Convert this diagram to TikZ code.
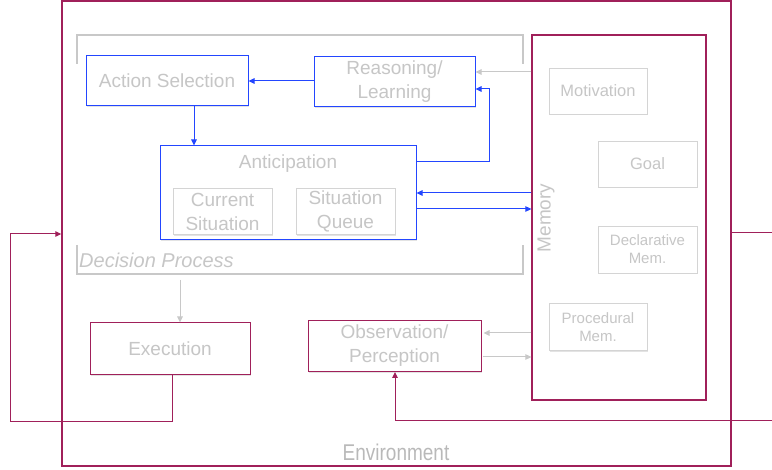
\documentclass[tikz,border=0pt]{standalone}
\usepackage{fontspec}
\setmainfont{Liberation Sans}
\usetikzlibrary{arrows.meta,shadows}
\definecolor{mag}{RGB}{160,32,90}
\definecolor{blu}{RGB}{35,70,255}
\definecolor{txt}{RGB}{198,198,198}
\definecolor{gbox}{RGB}{212,212,212}
\definecolor{gline}{RGB}{200,200,200}
\tikzset{
  box/.style={draw, rectangle, line width=1pt, align=center, text=txt, inner sep=0pt,
    font=\fontsize{19}{24}\selectfont, fill=white,
    drop shadow={opacity=0.22,shadow xshift=1pt,shadow yshift=-1.5pt}},
  bluebox/.style={box, draw=blu},
  magbox/.style={box, draw=mag},
  graybox/.style={box, draw=gbox, line width=0.9pt},
  arr/.style={line width=1pt,-{Triangle[length=6pt,width=5.5pt]}},
  plain/.style={line width=1pt},
  lbl/.style={text=txt, inner sep=0pt}
}
\begin{document}
\begin{tikzpicture}[x=1pt,y=-1pt]
\useasboundingbox (0,0) rectangle (772,470);
% environment
\node[draw=mag, line width=1.4pt, minimum width=669pt, minimum height=465pt, inner sep=0pt] (env) at (396.5,233.5) {};
\node[lbl, text={rgb,255:red,185;green,185;blue,185}, font=\fontsize{19}{23}\selectfont, yscale=1.2] (envt) at (396,452) {Environment};
% decision process brackets
\draw[gline, line width=1.4pt] (77,64) -- (77,35) -- (523,35) -- (523,64);
\draw[gline, line width=1.4pt] (77,245) -- (77,274) -- (523,274) -- (523,245);
\node[lbl, anchor=west, font=\fontsize{20}{24}\selectfont\itshape] (dpt) at (79,260) {Decision Process};
\coordinate (dp) at (180,280);
% memory
\node[magbox, line width=1.2pt, minimum width=174pt, minimum height=365pt] (mem) at (619,217.5) {};
\node[lbl, rotate=90, font=\fontsize{19}{23}\selectfont] (memt) at (546,218) {Memory};
\node[graybox, minimum width=98pt, minimum height=46pt, font=\fontsize{16.5}{19}\selectfont] (motiv) at (598,91) {Motivation};
\node[graybox, minimum width=99pt, minimum height=46pt, font=\fontsize{16.5}{19}\selectfont] (goal) at (647.5,164) {Goal};
\node[graybox, minimum width=99pt, minimum height=47pt, font=\fontsize{15}{18}\selectfont] (decl) at (647.5,249.5) {Declarative\\Mem.};
\node[graybox, minimum width=98pt, minimum height=47pt, font=\fontsize{15}{18}\selectfont] (proc) at (598,327) {Procedural\\Mem.};
% decision boxes
\node[bluebox, minimum width=162pt, minimum height=50pt] (action) at (167,81) {\raisebox{-1.5pt}{Action Selection}};
\node[bluebox, minimum width=161pt, minimum height=50pt] (reason) at (394.5,82) {Reasoning/\\Learning};
\node[bluebox, minimum width=256pt, minimum height=94pt] (antic) at (288,193) {};
\node[lbl, font=\fontsize{19}{23}\selectfont] (antict) at (288,164) {Anticipation};
\node[graybox, minimum width=99pt, minimum height=46pt] (cur) at (222.5,211.5) {Current\\Situation};
\node[graybox, minimum width=99pt, minimum height=46pt] (queue) at (345.5,211.5) {Situation\\Queue};
% lower boxes
\node[magbox, minimum width=160pt, minimum height=52pt] (exec) at (170,349) {\raisebox{-1.5pt}{Execution}};
\node[magbox, minimum width=173pt, minimum height=51pt] (obs) at (394.5,346) {Observation/\\Perception};
% blue connectors
\draw[arr, blu] (reason.west |- 0,81) -- (action.east |- 0,81);
\draw[arr, blu] (action.south -| 194,0) -- (antic.north -| 194,0);
\draw[arr, blu] (antic.east |- 0,162) -| (489,89) -- (reason.east |- 0,89);
\draw[arr, blu] (mem.west |- 0,193) -- (antic.east |- 0,193);
\draw[arr, blu] (antic.east |- 0,209) -- (mem.west |- 0,209);
% gray connectors
\draw[arr, gline] (mem.west |- 0,72) -- (reason.east |- 0,72);
\draw[arr, gline] (mem.west |- 0,333) -- ([xshift=2pt]obs.east |- 0,333);
\draw[arr, gline] ([xshift=1pt]obs.east |- 0,357) -- (mem.west |- 0,357);
\draw[arr, gline] (dp) -- (exec.north -| dp);
% magenta connectors
\draw[arr, mag] (exec.south -| 172,0) -- (172,422) -- (10,422) -- (10,234) -- (env.west |- 0,234);
\draw[plain, mag] (env.east |- 0,233) -- (772,233);
\draw[arr, mag] (772,421) -- (395,421) -- (obs.south -| 395,0);
\end{tikzpicture}
\end{document}
